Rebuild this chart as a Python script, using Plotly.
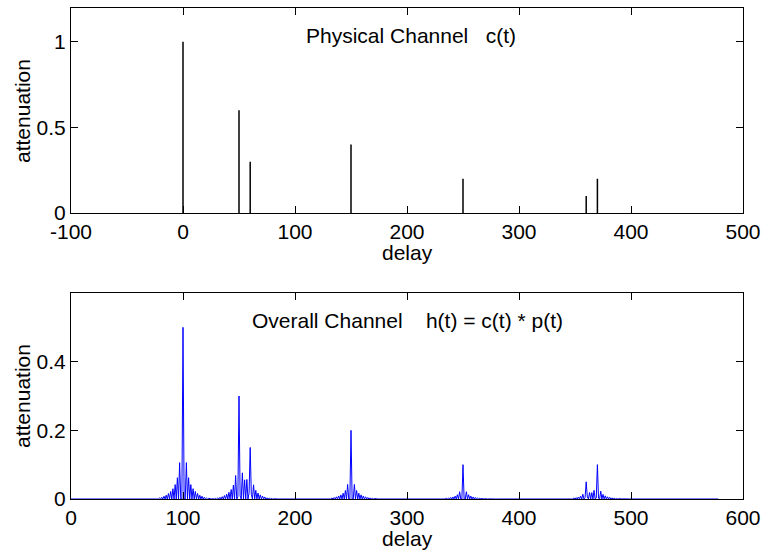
import numpy as np
import plotly.graph_objects as go

# Physical channel taps
tap_delays = [0, 50, 60, 150, 250, 360, 370]
tap_gains = [1.0, 0.6, 0.3, 0.4, 0.2, 0.1, 0.2]

# Pulse p(t): one-sided magnitudes at offsets 0,1,2,... (symmetric)
pulse_half = [0.5, 0.0, 0.0, 0.106, 0.0, 0.062, 0.0, 0.042, 0.0, 0.030, 0.0, 0.022,
              0.0, 0.016, 0.0, 0.011, 0.0, 0.008, 0.0, 0.005, 0.0, 0.003, 0.0, 0.002]
pulse_delay = 100
h_length = 579

# overall channel h = c * p
pulse = np.array(pulse_half[:0:-1] + pulse_half)
c = np.zeros(max(tap_delays) + 1)
for d, g in zip(tap_delays, tap_gains):
    c[d] += g
full = np.convolve(c, pulse)
h = np.zeros(h_length)
start = pulse_delay - (len(pulse_half) - 1)
h[start:start + len(full)] = full[: h_length - start]
t = np.arange(h_length)

# stem segments for c(t)
sx, sy = [], []
for d, g in zip(tap_delays, tap_gains):
    sx += [d, d, None]
    sy += [0, g, None]

top_xticks = [-100, 0, 100, 200, 300, 400, 500]
top_xlabels = ["-100", "0", "100", "200", "300", "400", "500"]
bot_xticks = [0, 100, 200, 300, 400, 500, 600]

FONT = "Liberation Sans, Arial, Helvetica, sans-serif"
fs = 21

fig = go.Figure()
fig.add_trace(go.Scatter(x=sx, y=sy, mode="lines", line=dict(color="black", width=1.5),
                         xaxis="x", yaxis="y", showlegend=False, hoverinfo="skip"))
fig.add_trace(go.Scatter(x=t, y=h, mode="lines", line=dict(color="#0000ff", width=1),
                         xaxis="x2", yaxis="y2", showlegend=False))

x0, x1 = 71 / 764, 743 / 764
axcommon = dict(showline=True, linecolor="black", linewidth=1, mirror="ticks",
                ticks="inside", ticklen=7, tickcolor="black", showgrid=False,
                zeroline=False, automargin=False,
                tickfont=dict(family=FONT, size=fs, color="black"))

fig.update_layout(
    width=764, height=552, margin=dict(l=0, r=0, t=0, b=0),
    plot_bgcolor="white", paper_bgcolor="white",
    font=dict(family=FONT, size=fs, color="black"),
    xaxis=dict(domain=[x0, x1], range=[-100, 500], tickvals=top_xticks, ticktext=top_xlabels,
               anchor="y", **axcommon),
    yaxis=dict(domain=[1 - 213 / 552, 1 - 7.5 / 552], range=[0, 1.2], tickvals=[0, 0.5, 1],
               ticktext=["0", "0.5", "1"], anchor="x", **axcommon),
    xaxis2=dict(domain=[x0, x1], range=[0, 600], tickvals=bot_xticks,
                anchor="y2", **axcommon),
    yaxis2=dict(domain=[1 - 499 / 552, 1 - 293 / 552], range=[0, 0.6], tickvals=[0, 0.2, 0.4],
                ticktext=["0", "0.2", "0.4"], anchor="x2", **axcommon),
)

nb = "\u00a0"
ann = [
    dict(text="Physical Channel" + nb * 3 + "c(t)", x=108, y=1.035, xref="x", yref="y",
         xanchor="left", yanchor="middle", showarrow=False),
    dict(text="Overall Channel" + nb * 4 + "h(t) = c(t) * p(t)", x=160, y=0.52, xref="x2",
         yref="y2", xanchor="left", yanchor="middle", showarrow=False),
    dict(text="delay", x=(x0 + x1) / 2, y=1 - 253 / 552, xref="paper", yref="paper",
         xanchor="center", yanchor="middle", showarrow=False),
    dict(text="delay", x=(x0 + x1) / 2, y=1 - 538 / 552, xref="paper", yref="paper",
         xanchor="center", yanchor="middle", showarrow=False),
    dict(text="attenuation", x=22 / 764, y=1 - 111 / 552, xref="paper", yref="paper",
         xanchor="center", yanchor="middle", textangle=-90, showarrow=False),
    dict(text="attenuation", x=22 / 764, y=1 - 396 / 552, xref="paper", yref="paper",
         xanchor="center", yanchor="middle", textangle=-90, showarrow=False),
]
for a in ann:
    a["font"] = dict(family=FONT, size=fs, color="black")
fig.update_layout(annotations=ann)

fig.write_html("out.html")
